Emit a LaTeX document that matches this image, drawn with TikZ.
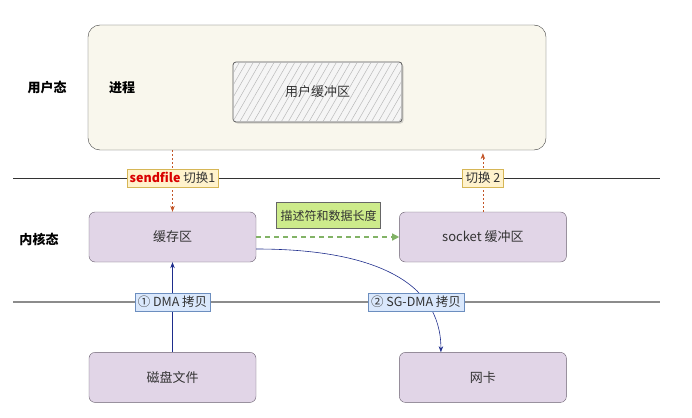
\documentclass[tikz,border=0pt]{standalone}
\usepackage{fontspec}
\setmainfont{Noto Sans CJK SC}
\usetikzlibrary{arrows.meta, positioning, patterns.meta, shadows}
\usepackage{xcolor}
\definecolor{procfill}{RGB}{249,247,237}
\definecolor{kfill}{RGB}{225,213,231}
\definecolor{kdraw}{RGB}{105,95,110}
\definecolor{yfill}{RGB}{255,242,204}
\definecolor{ydraw}{RGB}{214,182,86}
\definecolor{bfill}{RGB}{218,232,252}
\definecolor{bdraw}{RGB}{108,142,191}
\definecolor{gfill}{RGB}{205,235,139}
\definecolor{gdraw}{RGB}{130,179,102}
\definecolor{darrow}{RGB}{30,45,140}
\definecolor{rarrow}{RGB}{195,85,40}
\definecolor{txt}{RGB}{51,51,51}
\tikzset{
  procbox/.style = {draw=black!75, rounded corners=12pt, fill=procfill,
                    minimum width=458pt, minimum height=125pt},
  bufbox/.style  = {draw=black!65, thick, rounded corners=3pt, fill=gray!8,
                    postaction={pattern={Lines[angle=60,distance=6pt,line width=0.5pt]},
                                pattern color=gray!55},
                    drop shadow={shadow xshift=1.5pt, shadow yshift=-1.5pt, opacity=0.3},
                    minimum width=169pt, minimum height=60pt,
                    font=\fontsize{13}{15}\selectfont, text=txt},
  kbox/.style    = {draw=kdraw, rounded corners=6pt, fill=kfill,
                    minimum width=167pt, minimum height=50pt,
                    font=\fontsize{13}{15}\selectfont, text=txt},
  layer/.style   = {font=\fontsize{13}{15}\selectfont\bfseries, text=black},
  sepline/.style = {draw=black!80, line width=0.6pt},
  sepline2/.style= {draw=black!45, line width=1.2pt},
  ytag/.style    = {draw=ydraw, fill=yfill, inner sep=3pt, minimum height=17pt,
                    font=\fontsize{12.5}{14}\selectfont, text=txt},
  btag/.style    = {draw=bdraw, fill=bfill, inner sep=3pt, minimum height=17pt,
                    font=\fontsize{12.5}{14}\selectfont, text=txt},
  gtag/.style    = {draw=black!60, fill=gfill, inner sep=4pt, minimum height=26pt,
                    font=\fontsize{12}{14}\selectfont, text=txt},
  redarrow/.style  = {-{Stealth[length=6pt]}, dashed, dash pattern=on 2pt off 2pt,
                      color=rarrow, line width=0.6pt},
  greenarrow/.style= {-{Triangle[length=7pt,width=7pt]}, dashed, dash pattern=on 5pt off 4pt,
                      color=gdraw, line width=1.3pt},
  bluearrow/.style = {-{Stealth[length=6pt]}, color=darrow, line width=0.6pt},
}
\begin{document}
\begin{tikzpicture}[x=1pt, y=-1pt]
  \useasboundingbox (0,0) rectangle (692,417);

  % user space
  \node[procbox] (proc) at (317,87.5) {};
  \node[bufbox] (ubuf) at (317.5,92) {用户缓冲区};
  \node[layer] (ulab) at (47,88) {用户态};
  \node[layer] (plab) at (122,88) {进程};

  % kernel space
  \node[kbox] (cache) at (172.5,237) {缓存区};
  \node[kbox, right=143pt of cache] (sock) {socket 缓冲区};
  \node[layer] (klab) at (39,239) {内核态};

  % devices
  \node[kbox, below=90pt of cache] (disk) {磁盘文件};
  \node[kbox, below=90pt of sock] (nic) {网卡};

  % separators
  \coordinate (l1a) at (13,178);
  \coordinate (l1b) at (660,178);
  \coordinate (l2a) at (13,302);
  \coordinate (l2b) at (660,302);
  \draw[sepline] (l1a) -- (l1b);
  \draw[sepline2] (l2a) -- (l2b);

  % flows
  \draw[redarrow] (proc.south -| cache) -- (cache.north);
  \draw[redarrow, shorten >=3pt] (sock.north) -- (proc.south -| sock);
  \draw[greenarrow] (cache.east) -- (sock.west);
  \draw[bluearrow] (disk.north) -- (cache.south);
  \draw[bluearrow] ([yshift=-12pt]cache.east) .. controls (370,249) and (441,280) .. ([xshift=-42pt]nic.north);

  % labels on the lines
  \node[ytag] (sw1) at (l1a -| cache) {\textcolor{red!85!black}{\bfseries sendfile} 切换1};
  \node[ytag] (sw2) at (l1a -| sock) {切换 2};
  \node[btag] (dma) at (l2a -| cache) {① DMA 拷贝};
  \node[btag] (sgdma) at (416,302) {② SG-DMA 拷贝};
  \node[gtag] (desc) at (328.5,215.5) {描述符和数据长度};
\end{tikzpicture}
\end{document}
